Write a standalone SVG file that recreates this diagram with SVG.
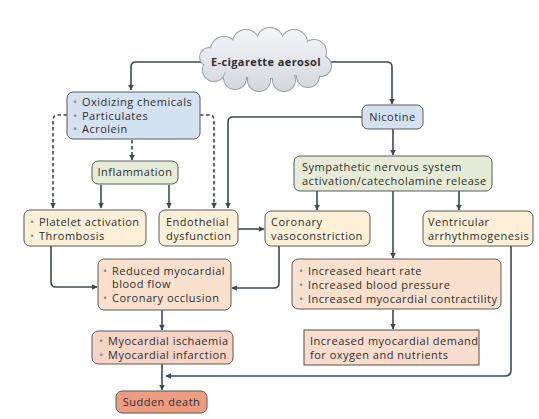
<svg xmlns="http://www.w3.org/2000/svg" width="539" height="419" viewBox="0 0 539 419">
<defs>
<linearGradient id="cg" gradientUnits="userSpaceOnUse" x1="0" y1="30" x2="0" y2="90">
<stop offset="0" stop-color="#f4f5f7"/>
<stop offset="1" stop-color="#d4d7dc"/>
</linearGradient>
<marker id="ah" viewBox="0 0 10 10" refX="9" refY="5" markerWidth="5.5" markerHeight="5.5" orient="auto" markerUnits="userSpaceOnUse">
<path d="M0,0 L10,5 L0,10 z" fill="#3f4a55"/>
</marker>
<style>
.t{font-family:"Open Sans","Noto Sans","DejaVu Sans",sans-serif;font-size:11px;letter-spacing:0.5px;fill:#2e2e2e}
.b{fill:#8a8a8a}
.bx{stroke:#5a5a5a;stroke-width:1}
.blue{fill:#d3e1f1}
.green{fill:#e5ebd7}
.beige{fill:#fcefd8}
.peach{fill:#f8e0cc}
.pink{fill:#f6d4c5}
.dem{fill:#f8dccd;stroke:#5a4a44;stroke-width:1}
.sd{fill:#ec9c7f}
.c{fill:none;stroke:#3f4a55;stroke-width:1.6;marker-end:url(#ah)}
.d{fill:none;stroke:#3f4a55;stroke-width:1.6;stroke-dasharray:3.5,2.5;marker-end:url(#ah)}
</style>
</defs>
<rect width="539" height="419" fill="#ffffff"/>

<g id="connectors">
<path class="c" d="M205,62 H136 Q131,62 131,67 V90"/>
<path class="c" d="M328,62 H387 Q392,62 392,67 V104"/>
<path class="d" d="M132,140 V160"/>
<path class="d" d="M67,115 H58 Q53,115 53,120 V208"/>
<path class="d" d="M200,115 H209 Q214,115 214,120 V208"/>
<path class="c" d="M101,185 V208"/>
<path class="c" d="M169,185 V208"/>
<path class="c" d="M362,117 H233 Q228,117 228,122 V208"/>
<path class="c" d="M393,129 V155"/>
<path class="c" d="M317,191 V210"/>
<path class="c" d="M393,191 V258"/>
<path class="c" d="M459,191 V210"/>
<path class="c" d="M238,229 H264"/>
<path class="c" d="M51,246 V282 Q51,287 56,287 H97"/>
<path class="c" d="M279,246 V283 Q279,288 274,288 H232"/>
<path class="c" d="M393,310 V329"/>
<path class="c" d="M162,310 V330"/>
<path class="c" d="M162,364 V390"/>
<path class="c" d="M511,246 V370 Q511,376 505,376 H166"/>
</g>

<g id="aerosol">
<g fill="#9aa0a8">
<ellipse cx="266" cy="60" rx="56" ry="19"/>
<circle cx="224" cy="50" r="14"/>
<circle cx="246" cy="43" r="14"/>
<circle cx="270" cy="41" r="14"/>
<circle cx="294" cy="43" r="14"/>
<circle cx="314" cy="52" r="13"/>
<circle cx="321" cy="66" r="11"/>
<circle cx="308" cy="76" r="12"/>
<circle cx="284" cy="80" r="12"/>
<circle cx="259" cy="80" r="12"/>
<circle cx="235" cy="78" r="12"/>
<circle cx="214" cy="70" r="12"/>
<circle cx="209" cy="57" r="10"/>
</g>
<g fill="url(#cg)">
<ellipse cx="266" cy="60" rx="55" ry="18"/>
<circle cx="224" cy="50" r="13"/>
<circle cx="246" cy="43" r="13"/>
<circle cx="270" cy="41" r="13"/>
<circle cx="294" cy="43" r="13"/>
<circle cx="314" cy="52" r="12"/>
<circle cx="321" cy="66" r="10"/>
<circle cx="308" cy="76" r="11"/>
<circle cx="284" cy="80" r="11"/>
<circle cx="259" cy="80" r="11"/>
<circle cx="235" cy="78" r="11"/>
<circle cx="214" cy="70" r="11"/>
<circle cx="209" cy="57" r="9"/>
</g>
<text class="t" x="266" y="66" text-anchor="middle" font-weight="bold" style="letter-spacing:0.4px">E-cigarette aerosol</text>
</g>

<g id="oxidizing">
<rect class="bx blue" x="67" y="92" width="133" height="47" rx="6"/>
<text class="t" x="73" y="106"><tspan class="b">•</tspan><tspan x="82">Oxidizing chemicals</tspan></text>
<text class="t" x="73" y="119.5"><tspan class="b">•</tspan><tspan x="82">Particulates</tspan></text>
<text class="t" x="73" y="133"><tspan class="b">•</tspan><tspan x="82">Acrolein</tspan></text>
</g>

<g id="nicotine">
<rect class="bx blue" x="362" y="105" width="61" height="24" rx="6"/>
<text class="t" x="392.5" y="121" text-anchor="middle">Nicotine</text>
</g>

<g id="inflammation">
<rect class="bx green" x="92" y="161" width="86" height="23" rx="6"/>
<text class="t" x="135" y="176" text-anchor="middle">Inflammation</text>
</g>

<g id="sympathetic">
<rect class="bx green" x="294" y="156" width="198" height="35" rx="6"/>
<text class="t" x="302" y="171">Sympathetic nervous system</text>
<text class="t" x="302" y="185">activation/catecholamine release</text>
</g>

<g id="platelet">
<rect class="bx beige" x="24" y="210" width="122" height="36" rx="6"/>
<text class="t" x="30" y="226"><tspan class="b">•</tspan><tspan x="39">Platelet activation</tspan></text>
<text class="t" x="30" y="240"><tspan class="b">•</tspan><tspan x="39">Thrombosis</tspan></text>
</g>

<g id="endothelial">
<rect class="bx beige" x="159" y="210" width="79" height="36" rx="6"/>
<text class="t" x="166" y="226">Endothelial</text>
<text class="t" x="166" y="240">dysfunction</text>
</g>

<g id="coronary">
<rect class="bx beige" x="265" y="211" width="105" height="35" rx="6"/>
<text class="t" x="271" y="226">Coronary</text>
<text class="t" x="271" y="240">vasoconstriction</text>
</g>

<g id="ventricular">
<rect class="bx beige" x="423" y="211" width="110" height="35" rx="6"/>
<text class="t" x="428" y="226">Ventricular</text>
<text class="t" x="428" y="240">arrhythmogenesis</text>
</g>

<g id="reduced">
<rect class="bx peach" x="98" y="259" width="133" height="51" rx="6"/>
<text class="t" x="103" y="274.5"><tspan class="b">•</tspan><tspan x="112">Reduced myocardial</tspan></text>
<text class="t" x="112" y="288">blood flow</text>
<text class="t" x="103" y="302"><tspan class="b">•</tspan><tspan x="112">Coronary occlusion</tspan></text>
</g>

<g id="increased">
<rect class="bx peach" x="292" y="259" width="209" height="50" rx="6"/>
<text class="t" x="299" y="274.5"><tspan class="b">•</tspan><tspan x="308">Increased heart rate</tspan></text>
<text class="t" x="299" y="288.5"><tspan class="b">•</tspan><tspan x="308">Increased blood pressure</tspan></text>
<text class="t" x="299" y="302.5"><tspan class="b">•</tspan><tspan x="308">Increased myocardial contractility</tspan></text>
</g>

<g id="demand">
<rect class="dem" x="304" y="330" width="175" height="35"/>
<text class="t" x="310" y="345">Increased myocardial demand</text>
<text class="t" x="310" y="359">for oxygen and nutrients</text>
</g>

<g id="ischaemia">
<rect class="bx pink" x="92" y="331" width="141" height="33" rx="6"/>
<text class="t" x="99" y="345"><tspan class="b">•</tspan><tspan x="108">Myocardial ischaemia</tspan></text>
<text class="t" x="99" y="359"><tspan class="b">•</tspan><tspan x="108">Myocardial infarction</tspan></text>
</g>

<g id="sudden">
<rect class="bx sd" x="116" y="391" width="91" height="22" rx="6"/>
<text class="t" x="161.5" y="406" text-anchor="middle">Sudden death</text>
</g>
</svg>
